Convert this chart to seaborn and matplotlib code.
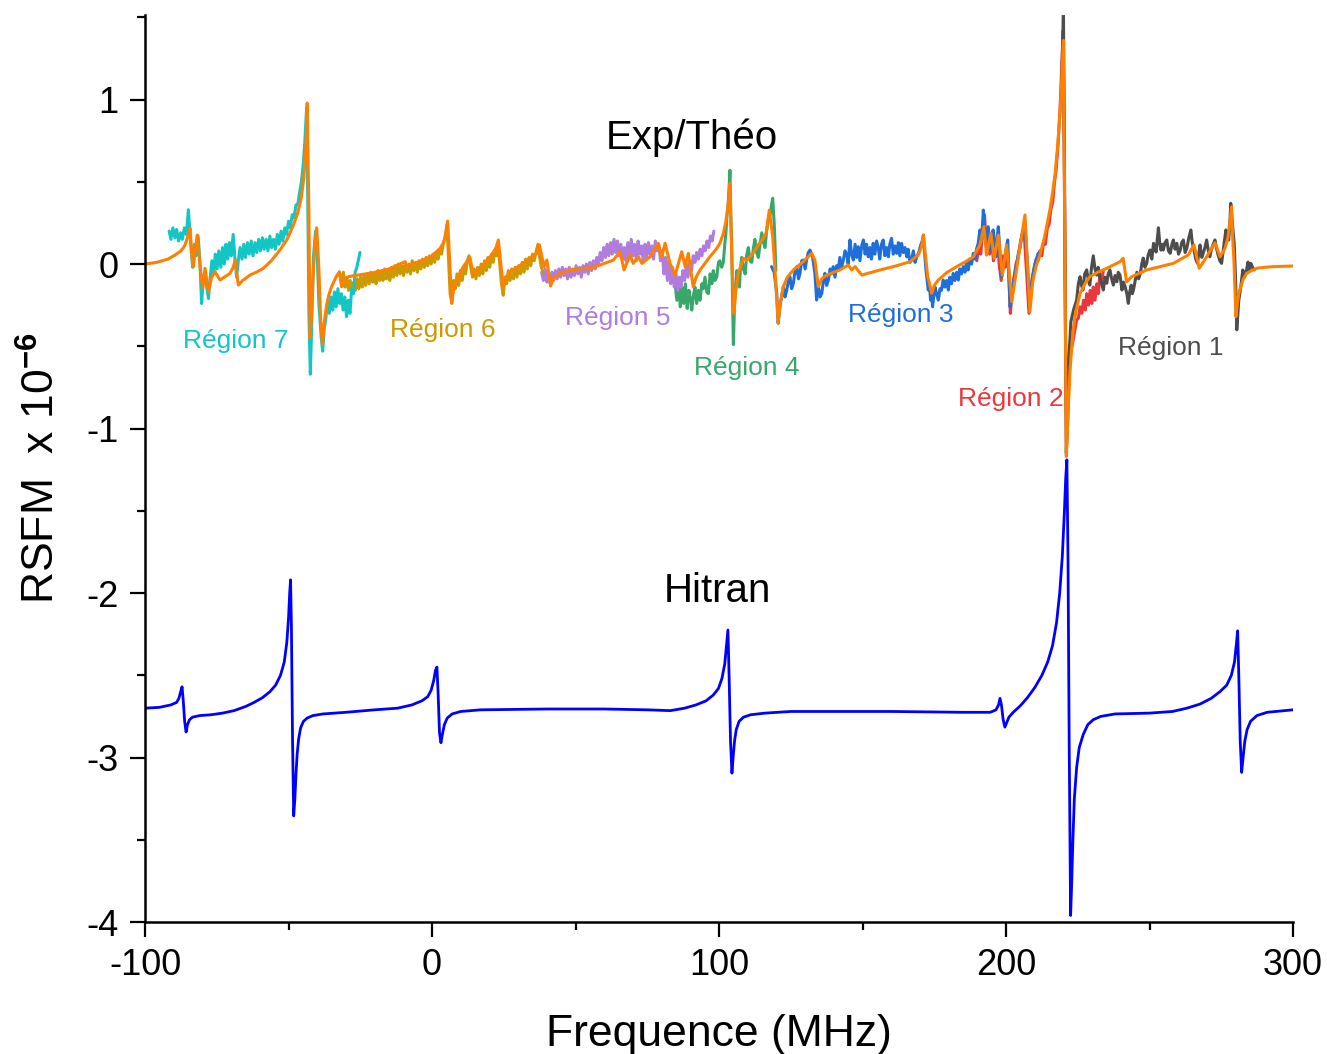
import matplotlib
matplotlib.use("Agg")
import matplotlib.pyplot as plt
import seaborn as sns
from matplotlib.ticker import MultipleLocator

# ---- data (frequency in MHz, RSFM x 1e-6) ----
hitran = [(-100.0, -2.70), (-95.0, -2.695), (-91.0, -2.68), (-89.0, -2.665), (-88.2, -2.64),
          (-87.6, -2.60), (-87.1, -2.57), (-86.7, -2.65), (-86.2, -2.78), (-85.7, -2.845),
          (-85.2, -2.80), (-84.5, -2.77), (-83.5, -2.755), (-81.0, -2.745), (-77.0, -2.74),
          (-73.0, -2.73), (-69.0, -2.715), (-65.0, -2.69), (-62.0, -2.665), (-59.0, -2.635),
          (-56.5, -2.60), (-54.5, -2.56), (-52.8, -2.50), (-51.5, -2.42), (-50.6, -2.30),
          (-50.0, -2.15), (-49.6, -2.00), (-49.3, -1.92), (-49.0, -2.20), (-48.6, -2.90),
          (-48.2, -3.355), (-47.8, -3.25), (-47.4, -3.10), (-47.0, -2.98), (-46.5, -2.89),
          (-45.8, -2.82), (-44.8, -2.78), (-43.5, -2.76), (-41.5, -2.745), (-38.0, -2.735),
          (-30.0, -2.725), (-20.0, -2.71), (-12.0, -2.70), (-7.0, -2.68), (-3.5, -2.655),
          (-1.5, -2.63), (-0.3, -2.59), (0.6, -2.53), (1.2, -2.47), (1.7, -2.45),
          (2.1, -2.60), (2.6, -2.85), (3.1, -2.91), (3.6, -2.86), (4.3, -2.80),
          (5.3, -2.76), (7.0, -2.735), (10.0, -2.72), (17.0, -2.71), (40.0, -2.705),
          (60.0, -2.705), (75.0, -2.71), (83.0, -2.715), (88.0, -2.70), (92.0, -2.68),
          (95.5, -2.655), (98.0, -2.62), (99.8, -2.58), (101.0, -2.52), (102.0, -2.43),
          (102.7, -2.30), (103.1, -2.225), (103.5, -2.50), (104.0, -2.90), (104.5, -3.095),
          (104.9, -3.00), (105.4, -2.90), (106.0, -2.83), (107.0, -2.78), (108.5, -2.755),
          (111.0, -2.74), (116.0, -2.73), (125.0, -2.72), (160.0, -2.72), (185.0, -2.725),
          (194.5, -2.725), (196.5, -2.71), (197.4, -2.68), (197.9, -2.64), (198.4, -2.68),
          (199.0, -2.77), (199.6, -2.815), (200.2, -2.79), (201.0, -2.755), (202.5, -2.725),
          (205.0, -2.685), (207.5, -2.635), (210.0, -2.575), (212.5, -2.50), (214.5, -2.42),
          (216.2, -2.32), (217.6, -2.18), (218.7, -2.00), (219.6, -1.78), (220.3, -1.52),
          (220.8, -1.30), (221.2, -1.19), (221.6, -1.80), (222.0, -2.90), (222.5, -3.96),
          (222.9, -3.75), (223.3, -3.50), (223.8, -3.25), (224.6, -3.06), (225.5, -2.94),
          (226.9, -2.86), (228.5, -2.80), (230.4, -2.77), (233.0, -2.75), (238.0, -2.735),
          (250.0, -2.73), (258.0, -2.72), (263.0, -2.70), (267.6, -2.675), (271.5, -2.64),
          (274.5, -2.60), (276.9, -2.56), (278.5, -2.50), (279.6, -2.42), (280.2, -2.32),
          (280.7, -2.23), (281.1, -2.50), (281.6, -2.90), (282.1, -3.09), (282.6, -3.00),
          (283.2, -2.90), (284.0, -2.83), (285.2, -2.78), (287.4, -2.745), (291.0, -2.725),
          (300.0, -2.71)]

theory = [(-100.0, 0.0), (-96.0, 0.01), (-92.0, 0.03), (-89.5, 0.055), (-87.5, 0.08),
          (-86.2, 0.11), (-85.2, 0.16), (-84.6, 0.20), (-84.3, 0.217), (-83.7, 0.05),
          (-83.2, -0.016), (-82.4, 0.10), (-81.8, 0.176), (-80.8, -0.02), (-79.9, -0.148),
          (-79.1, -0.026), (-77.9, -0.168), (-76.8, -0.08), (-75.6, -0.047), (-73.9, -0.097),
          (-72.0, -0.075), (-70.4, -0.057), (-69.3, -0.02), (-68.6, 0.024), (-67.5, -0.128),
          (-66.0, -0.10), (-63.4, -0.067), (-61.0, -0.048), (-58.8, -0.026), (-56.0, 0.02),
          (-53.0, 0.085), (-50.5, 0.15), (-48.3, 0.237), (-46.8, 0.31), (-45.6, 0.40),
          (-44.7, 0.52), (-44.1, 0.66), (-43.7, 0.82), (-43.5, 0.979), (-42.9, 0.30),
          (-42.5, -0.45), (-42.0, -0.30), (-41.5, -0.10), (-40.8, 0.12), (-40.2, 0.22),
          (-39.8, 0.10), (-39.4, -0.04), (-38.8, -0.35), (-38.2, -0.49), (-37.6, -0.36),
          (-36.9, -0.27), (-36.0, -0.19), (-35.0, -0.138), (-33.5, -0.08), (-32.3, -0.047),
          (-31.5, -0.138), (-30.5, -0.10), (-29.2, -0.077), (-25.0, -0.065), (-20.5, -0.053),
          (-15.0, -0.03), (-9.4, 0.014), (-8.85, -0.016), (-6.0, 0.005), (-3.0, 0.024),
          (0.0, 0.05), (2.8, 0.095), (4.0, 0.13), (4.8, 0.18), (5.45, 0.261),
          (6.85, -0.229), (7.5, -0.16), (8.6, -0.097), (10.9, -0.016), (13.2, 0.041),
          (14.4, -0.067), (16.7, -0.026), (20.8, 0.055), (22.3, 0.10), (23.1, 0.146),
          (24.8, -0.138), (25.8, -0.08), (27.2, -0.047), (31.8, 0.004), (36.5, 0.065),
          (37.4, 0.116), (39.0, -0.016), (40.0, 0.024), (41.3, -0.134), (42.2, -0.09),
          (43.4, -0.067), (48.1, -0.036), (56.2, -0.020), (58.5, -0.006), (63.2, 0.024),
          (65.5, 0.075), (66.9, -0.036), (69.0, 0.055), (70.1, 0.004), (71.9, 0.044),
          (73.1, 0.004), (76.0, 0.044), (78.8, 0.126), (80.0, 0.044), (81.2, 0.126),
          (82.9, 0.004), (84.7, -0.067), (87.0, 0.075), (88.2, -0.016), (89.3, 0.065),
          (91.0, -0.138), (92.0, -0.08), (93.4, -0.036), (96.8, 0.044), (99.0, 0.09),
          (100.3, 0.126), (101.5, 0.187), (102.3, 0.25), (102.9, 0.32), (103.4, 0.40),
          (103.8, 0.49), (104.5, 0.0), (105.2, -0.30), (105.8, -0.17), (106.7, -0.057),
          (108.5, 0.035), (109.6, 0.024), (111.4, 0.055), (113.7, 0.116), (115.4, 0.156),
          (116.4, 0.187), (117.5, 0.328), (118.7, 0.166), (119.5, -0.036), (120.6, -0.36),
          (121.3, -0.24), (122.4, -0.138), (123.8, -0.08), (125.9, -0.036), (129.3, 0.014),
          (132.3, 0.065), (133.4, 0.024), (134.6, -0.138), (135.8, -0.09), (137.5, -0.067),
          (142.1, -0.036), (145.0, -0.006), (146.2, -0.036), (147.4, -0.016), (149.7, -0.067),
          (156.1, -0.036), (162.0, -0.01), (166.5, 0.014), (169.4, 0.055), (170.5, 0.10),
          (171.2, 0.176), (172.7, -0.077), (173.3, -0.117), (174.1, -0.178), (175.0, -0.13),
          (176.4, -0.097), (179.5, -0.05), (182.8, -0.016), (186.0, 0.015), (188.6, 0.044),
          (190.9, 0.116), (192.3, 0.227), (193.2, 0.055), (194.7, 0.187), (195.9, 0.035),
          (197.3, 0.176), (198.7, -0.067), (200.2, 0.116), (202.0, -0.229), (204.2, 0.03),
          (206.6, 0.298), (208.3, -0.29), (209.3, -0.108), (210.5, -0.01), (211.8, 0.055),
          (213.5, 0.17), (215.3, 0.33), (216.2, 0.43), (217.1, 0.55), (218.0, 0.72),
          (218.8, 0.92), (219.2, 1.05), (219.6, 1.20), (220.0, 1.36), (221.0, -1.17),
          (221.3, -1.05), (221.6, -0.90), (222.0, -0.75), (222.3, -0.65), (222.8, -0.52),
          (223.4, -0.40), (224.3, -0.29), (225.8, -0.178), (227.5, -0.12), (229.2, -0.077),
          (232.0, -0.05), (235.1, -0.026), (239.7, 0.014), (240.8, 0.035), (242.0, -0.108),
          (243.8, -0.077), (249.0, -0.036), (258.3, 0.004), (263.5, 0.055), (265.5, 0.116),
          (267.3, -0.026), (269.9, 0.044), (272.8, 0.129), (274.6, 0.044), (276.3, 0.095),
          (277.3, 0.16), (277.8, 0.227), (278.3, 0.30), (278.6, 0.348), (279.0, 0.15),
          (279.4, 0.024), (280.1, -0.32), (280.6, -0.24), (281.2, -0.17), (281.8, -0.138),
          (282.7, -0.09), (283.8, -0.057), (285.5, -0.04), (287.3, -0.026), (290.0, -0.02),
          (293.1, -0.016), (300.0, -0.012)]

region7 = [(-91.6, 0.20), (-91.0, 0.15), (-90.3, 0.22), (-89.6, 0.16), (-89.0, 0.21), (-88.3, 0.14),
           (-87.6, 0.19), (-87.0, 0.15), (-86.3, 0.22), (-85.6, 0.18), (-84.9, 0.33), (-84.4, 0.20),
           (-83.9, 0.08), (-83.4, -0.02), (-82.8, 0.12), (-82.2, 0.05), (-81.5, 0.17), (-80.9, 0.02),
           (-80.3, -0.24), (-79.7, -0.10), (-79.1, -0.05), (-78.5, -0.14), (-77.9, -0.21), (-77.3, -0.08),
           (-76.7, 0.02), (-76.1, -0.06), (-75.5, 0.06), (-74.9, -0.03), (-74.3, 0.08), (-73.6, -0.02),
           (-73.0, 0.10), (-72.4, 0.00), (-71.8, 0.12), (-71.2, 0.03), (-70.6, 0.13), (-70.0, 0.05),
           (-69.3, 0.18), (-68.7, 0.04), (-68.1, -0.08), (-67.5, 0.02), (-66.9, 0.10), (-66.2, 0.03),
           (-65.6, 0.12), (-65.0, 0.04), (-64.3, 0.13), (-63.7, 0.06), (-63.0, 0.14), (-62.4, 0.05),
           (-61.7, 0.13), (-61.1, 0.07), (-60.4, 0.15), (-59.8, 0.08), (-59.1, 0.16), (-58.5, 0.09),
           (-57.8, 0.15), (-57.2, 0.08), (-56.5, 0.17), (-55.9, 0.10), (-55.2, 0.15), (-54.6, 0.09),
           (-53.9, 0.18), (-53.3, 0.12), (-52.6, 0.20), (-52.0, 0.14), (-51.3, 0.22), (-50.7, 0.18),
           (-50.0, 0.26), (-49.4, 0.22), (-48.7, 0.30), (-48.1, 0.28), (-47.4, 0.36), (-46.8, 0.36),
           (-46.1, 0.44), (-45.5, 0.50), (-44.9, 0.60), (-44.3, 0.75), (-43.7, 0.95), (-43.3, 0.40),
           (-42.9, -0.30), (-42.4, -0.67), (-41.9, -0.35), (-41.3, 0.05), (-40.6, 0.20), (-40.0, 0.05),
           (-39.4, -0.25), (-38.6, -0.45), (-38.1, -0.53), (-37.6, -0.40), (-37.0, -0.33), (-36.4, -0.22),
           (-35.8, -0.30), (-35.2, -0.20), (-34.6, -0.28), (-34.0, -0.17), (-33.4, -0.26), (-32.8, -0.15),
           (-32.2, -0.24), (-31.6, -0.18), (-31.0, -0.28), (-30.4, -0.20), (-29.8, -0.32), (-29.2, -0.22),
           (-28.6, -0.30), (-28.0, -0.15), (-27.4, -0.18), (-26.8, -0.05), (-26.2, -0.02), (-25.6, 0.03),
           (-25.1, 0.07)]

region6 = [(-32.1, -0.06), (-31.5, -0.12), (-30.9, -0.05), (-30.3, -0.14), (-29.7, -0.08), (-29.1, -0.16),
           (-28.5, -0.10), (-27.9, -0.17), (-27.3, -0.11), (-26.7, -0.16), (-26.1, -0.09), (-25.5, -0.15),
           (-24.9, -0.08), (-24.3, -0.14), (-23.7, -0.07), (-23.1, -0.13), (-22.5, -0.06), (-21.9, -0.12),
           (-21.3, -0.05), (-20.7, -0.11), (-20.1, -0.06), (-19.5, -0.12), (-18.9, -0.04), (-18.3, -0.10),
           (-17.7, -0.05), (-17.1, -0.10), (-16.5, -0.03), (-15.9, -0.09), (-15.3, -0.04), (-14.7, -0.10),
           (-14.1, -0.02), (-13.5, -0.08), (-12.9, -0.01), (-12.3, -0.07), (-11.7, 0.00), (-11.1, -0.06),
           (-10.5, -0.01), (-9.9, -0.07), (-9.3, 0.01), (-8.7, -0.05), (-8.1, 0.00), (-7.5, -0.06),
           (-6.9, 0.02), (-6.3, -0.04), (-5.7, 0.01), (-5.1, -0.05), (-4.5, 0.02), (-3.9, -0.03),
           (-3.3, 0.03), (-2.7, -0.02), (-2.1, 0.04), (-1.5, -0.01), (-0.9, 0.05), (-0.3, 0.00),
           (0.3, 0.06), (0.9, 0.01), (1.5, 0.07), (2.1, 0.03), (2.7, 0.09), (3.3, 0.06),
           (3.9, 0.12), (4.5, 0.16), (5.2, 0.24), (5.7, 0.05), (6.3, -0.18), (6.9, -0.24),
           (7.5, -0.10), (8.1, -0.15), (8.7, -0.06), (9.3, -0.13), (9.9, -0.04), (10.5, -0.10),
           (11.1, -0.02), (11.7, -0.06), (12.3, 0.02), (12.9, 0.05), (13.5, -0.02), (14.1, -0.08),
           (14.7, -0.03), (15.3, -0.09), (15.9, -0.02), (16.5, -0.07), (17.1, 0.00), (17.7, -0.06),
           (18.3, 0.02), (18.9, -0.04), (19.5, 0.04), (20.1, -0.02), (20.7, 0.06), (21.3, 0.01),
           (21.9, 0.08), (22.5, 0.05), (23.0, 0.12), (23.6, 0.00), (24.2, -0.12), (24.8, -0.19),
           (25.4, -0.08), (26.0, -0.12), (26.6, -0.04), (27.2, -0.10), (27.8, -0.03), (28.4, -0.09),
           (29.0, -0.02), (29.6, -0.08), (30.2, -0.01), (30.8, -0.06), (31.4, 0.01), (32.0, -0.05),
           (32.6, 0.03), (33.2, -0.03), (33.8, 0.04), (34.4, -0.01), (35.0, 0.06), (35.6, 0.02),
           (36.2, 0.07), (36.9, 0.12), (37.5, 0.04), (38.1, -0.02), (38.7, -0.05)]

region5 = [(38.2, -0.05), (38.8, -0.10), (39.4, -0.03), (40.0, -0.11), (40.6, -0.06), (41.2, -0.12),
           (41.8, -0.05), (42.4, -0.10), (43.0, -0.04), (43.6, -0.09), (44.2, -0.03), (44.8, -0.08),
           (45.4, -0.02), (46.0, -0.07), (46.6, -0.03), (47.2, -0.09), (47.8, -0.02), (48.4, -0.08),
           (49.0, -0.03), (49.6, -0.07), (50.2, -0.01), (50.8, -0.06), (51.4, -0.02), (52.0, -0.08),
           (52.6, -0.01), (53.2, -0.05), (53.8, 0.00), (54.4, -0.06), (55.0, 0.01), (55.6, -0.04),
           (56.2, 0.02), (56.8, -0.03), (57.4, 0.04), (58.0, 0.00), (58.6, 0.07), (59.2, 0.02),
           (59.8, 0.10), (60.4, 0.04), (61.0, 0.12), (61.6, 0.05), (62.2, 0.13), (62.8, 0.06),
           (63.4, 0.15), (64.0, 0.07), (64.6, 0.14), (65.2, 0.05), (65.8, 0.12), (66.4, 0.03),
           (67.0, 0.10), (67.6, 0.02), (68.2, 0.13), (68.8, 0.04), (69.4, 0.15), (70.0, 0.05),
           (70.6, 0.12), (71.2, 0.02), (71.8, 0.14), (72.4, 0.06), (73.0, 0.11), (73.6, 0.01),
           (74.2, 0.12), (74.8, 0.04), (75.4, 0.13), (76.0, 0.06), (76.6, 0.11), (77.2, 0.03),
           (77.8, 0.14), (78.4, 0.08), (79.0, 0.12), (79.6, 0.02), (80.2, 0.08), (80.8, -0.06),
           (81.4, 0.04), (82.0, -0.10), (82.6, 0.02), (83.2, -0.12), (83.8, -0.02), (84.4, -0.14),
           (85.0, -0.06), (85.6, -0.16), (86.2, -0.08), (86.8, -0.14), (87.4, -0.04), (88.0, -0.10),
           (88.6, 0.00), (89.2, -0.08), (89.8, 0.02), (90.4, -0.04), (91.0, 0.05), (91.6, 0.01),
           (92.2, 0.07), (92.8, 0.03), (93.4, 0.09), (94.0, 0.05), (94.6, 0.11), (95.2, 0.08),
           (95.8, 0.14), (96.4, 0.10), (97.0, 0.17), (97.6, 0.14), (98.2, 0.20)]

region4 = [(84.7, -0.12), (85.3, -0.22), (85.9, -0.10), (86.5, -0.26), (87.1, -0.14), (87.7, -0.24),
           (88.3, -0.12), (88.9, -0.27), (89.5, -0.16), (90.1, -0.22), (90.5, -0.28), (91.0, -0.20),
           (91.6, -0.14), (92.2, -0.24), (92.8, -0.16), (93.4, -0.22), (94.0, -0.12), (94.5, -0.15),
           (95.1, -0.08), (95.7, -0.17), (96.3, -0.18), (96.9, -0.06), (97.5, -0.12), (98.0, -0.04),
           (98.6, -0.10), (99.2, -0.08), (99.8, 0.01), (100.3, 0.02), (100.9, -0.02), (101.5, 0.01),
           (102.0, 0.12), (102.4, 0.19), (102.8, 0.30), (103.2, 0.37), (103.8, 0.57), (104.1, 0.30),
           (104.4, 0.13), (104.7, -0.20), (105.0, -0.49), (105.3, -0.30), (105.6, -0.16), (106.2, -0.04),
           (106.6, -0.10), (107.1, -0.14), (107.5, -0.02), (107.9, 0.04), (108.5, -0.03), (109.1, -0.06),
           (109.6, 0.05), (110.2, 0.10), (110.8, 0.02), (111.4, 0.01), (112.0, 0.10), (112.5, 0.15),
           (113.1, 0.07), (113.7, 0.04), (114.3, 0.12), (114.9, 0.19), (115.5, 0.13), (116.0, 0.10),
           (116.6, 0.20), (117.2, 0.27), (117.8, 0.30), (118.3, 0.36), (118.7, 0.40), (119.0, 0.31),
           (119.3, 0.22), (119.8, -0.04)]

region3 = [(118.3, -0.016), (119.2, -0.05), (120.1, -0.178), (120.6, -0.36), (121.2, -0.26), (121.8, -0.20),
           (122.4, -0.138), (123.0, -0.20), (123.6, -0.158), (124.2, -0.10), (124.7, -0.077), (125.3, -0.15),
           (125.9, -0.117), (126.5, -0.04), (127.1, -0.016), (127.7, -0.09), (128.2, -0.057), (128.8, 0.02),
           (129.4, 0.024), (130.0, -0.03), (130.5, 0.024), (131.1, 0.07), (131.7, 0.085), (132.6, 0.044),
           (133.4, -0.057), (134.0, -0.219), (134.6, -0.138), (135.2, -0.20), (135.8, -0.178), (136.4, -0.10),
           (136.9, -0.057), (137.5, -0.13), (138.1, -0.097), (138.7, -0.03), (139.2, -0.06), (139.8, -0.016),
           (140.4, -0.08), (141.0, -0.01), (141.5, -0.036), (142.1, 0.04), (142.7, -0.02), (143.3, 0.024),
           (143.9, 0.08), (144.5, 0.055), (145.0, 0.00), (145.6, 0.146), (146.2, 0.06), (146.8, 0.024),
           (147.4, 0.12), (148.0, 0.04), (148.5, 0.105), (149.1, 0.02), (149.7, 0.11), (150.3, 0.146),
           (150.9, 0.06), (151.4, 0.12), (152.0, 0.044), (152.6, 0.10), (153.1, 0.03), (153.7, 0.126),
           (154.3, 0.06), (154.9, 0.14), (155.5, 0.095), (156.0, 0.03), (156.6, 0.12), (157.2, 0.146),
           (157.8, 0.05), (158.4, 0.10), (159.0, 0.044), (159.5, 0.12), (160.1, 0.156), (160.7, 0.06),
           (161.3, 0.11), (161.9, 0.065), (162.5, 0.13), (163.0, 0.05), (163.6, 0.126), (164.2, 0.07),
           (164.8, 0.10), (165.4, 0.044), (165.9, 0.09), (166.5, 0.01), (167.1, 0.024), (167.7, 0.08),
           (168.3, 0.01), (168.9, 0.044), (169.6, 0.07), (170.3, 0.116), (170.8, 0.14), (171.2, 0.176),
           (171.7, 0.05), (172.1, -0.036), (172.5, -0.10), (172.9, -0.158), (173.3, -0.12), (173.7, -0.219),
           (174.1, -0.18), (174.4, -0.26), (174.8, -0.20), (175.2, -0.138), (175.8, -0.18), (176.4, -0.219),
           (177.0, -0.15), (177.5, -0.16), (178.1, -0.097), (178.7, -0.14), (179.3, -0.10), (179.9, -0.158),
           (180.4, -0.08), (181.0, -0.12), (181.6, -0.057), (182.2, -0.10), (182.8, -0.05), (183.4, -0.097),
           (183.9, -0.03), (184.5, -0.06), (185.1, -0.016), (185.7, -0.05), (186.2, 0.01), (186.8, -0.036),
           (187.4, 0.03), (188.0, 0.00), (188.6, 0.065), (189.2, 0.03), (189.7, 0.09), (190.3, 0.126),
           (190.9, 0.207), (191.5, 0.15), (192.1, 0.328), (192.5, 0.20), (192.9, 0.126), (193.4, 0.18),
           (193.8, 0.227), (194.2, 0.13), (194.6, 0.085), (195.0, 0.15), (195.5, 0.207), (196.0, 0.10),
           (196.5, 0.044), (196.9, 0.15), (197.3, 0.227), (197.9, 0.06), (198.5, -0.077), (199.0, -0.02),
           (199.6, 0.024), (200.1, 0.10), (200.6, 0.146), (201.0, -0.05), (201.4, -0.26), (201.9, -0.20),
           (202.5, -0.117), (203.1, -0.06), (203.7, 0.00), (204.3, 0.065), (204.9, 0.10), (205.4, 0.16),
           (206.0, 0.207), (206.6, 0.247), (207.0, 0.12), (207.4, 0.024), (207.8, -0.12), (208.1, -0.27),
           (208.5, -0.20), (208.9, -0.117), (209.5, -0.05), (210.1, 0.004), (210.6, 0.03), (211.2, 0.065)]

region2 = [(189.8, 0.02), (190.5, 0.10), (191.2, 0.06), (191.9, 0.22), (192.5, 0.30), (193.1, 0.12),
           (193.7, 0.22), (194.3, 0.06), (195.0, 0.18), (195.6, 0.02), (196.3, 0.10), (197.0, 0.18),
           (197.6, 0.00), (198.3, -0.10), (199.0, 0.05), (199.7, -0.02), (200.3, 0.12), (200.9, -0.05),
           (201.5, -0.30), (202.1, -0.18), (202.8, -0.08), (203.5, 0.00), (204.2, 0.04), (204.9, 0.12),
           (205.6, 0.18), (206.3, 0.20), (206.8, 0.05), (207.4, -0.12), (208.0, -0.30), (208.6, -0.15),
           (209.2, -0.08), (209.9, -0.02), (210.5, 0.03), (211.2, 0.02), (211.8, 0.08), (212.5, 0.05),
           (213.1, 0.14), (213.7, 0.12), (214.4, 0.22), (215.0, 0.24), (215.6, 0.33), (216.3, 0.38),
           (216.9, 0.50), (217.5, 0.58), (218.1, 0.72), (218.8, 0.93), (219.4, 1.20), (219.9, 1.42),
           (220.3, 0.60), (220.7, -0.40), (221.1, -1.10), (221.5, -0.95), (221.9, -0.72), (222.3, -0.58),
           (222.8, -0.52), (223.4, -0.46), (224.0, -0.40), (224.6, -0.34), (225.2, -0.33), (225.8, -0.26),
           (226.4, -0.30), (227.0, -0.22), (227.6, -0.28), (228.1, -0.18), (228.7, -0.25), (229.3, -0.16),
           (229.9, -0.24), (230.4, -0.14), (231.0, -0.22), (231.6, -0.12), (232.2, -0.18), (232.7, -0.06),
           (233.3, -0.12), (233.9, -0.04)]

region1 = [(219.3, 1.00), (220.0, 1.55), (221.0, -1.15), (221.8, -0.60), (222.6, -0.35), (223.5, -0.28),
           (224.6, -0.219), (225.2, -0.12), (225.8, -0.077), (226.3, -0.13), (226.8, -0.158), (227.4, -0.06),
           (228.1, -0.036), (228.7, -0.10), (229.2, -0.128), (229.8, -0.02), (230.4, 0.05), (231.0, -0.03),
           (231.6, -0.067), (232.1, -0.02), (232.7, -0.077), (233.3, -0.12), (233.9, -0.158), (234.5, -0.08),
           (235.1, -0.117), (235.6, -0.06), (236.2, -0.036), (236.8, -0.09), (237.4, -0.128), (238.0, -0.07),
           (238.6, -0.108), (239.1, -0.05), (239.7, -0.067), (240.4, -0.158), (240.9, -0.11), (241.5, -0.138),
           (242.1, -0.18), (242.6, -0.239), (243.1, -0.17), (243.6, -0.128), (244.0, -0.18), (244.4, -0.158),
           (245.0, -0.10), (245.6, -0.05), (246.2, -0.09), (246.8, -0.057), (247.3, 0.00), (247.8, 0.036),
           (248.4, -0.02), (249.0, 0.004), (249.6, 0.06), (250.2, 0.085), (250.8, 0.03), (251.4, 0.126),
           (251.9, 0.09), (252.3, 0.073), (252.7, 0.15), (253.1, 0.22), (253.6, 0.12), (254.0, 0.085),
           (254.4, 0.12), (254.8, 0.085), (255.4, 0.13), (256.0, 0.146), (256.6, 0.08), (257.2, 0.065),
           (257.8, 0.12), (258.3, 0.146), (258.9, 0.09), (259.5, 0.126), (260.1, 0.06), (260.7, 0.085),
           (261.2, 0.13), (261.8, 0.146), (262.4, 0.07), (263.0, 0.097), (263.7, 0.16), (264.4, 0.207),
           (264.9, 0.13), (265.5, 0.085), (266.1, 0.03), (266.7, 0.004), (267.2, 0.07), (267.6, 0.116),
           (268.2, 0.04), (268.7, 0.065), (269.3, 0.10), (269.9, 0.146), (270.5, 0.08), (271.0, 0.044),
           (271.6, 0.09), (272.1, 0.116), (272.8, 0.146), (273.4, 0.09), (273.9, 0.055), (274.5, 0.02),
           (275.1, 0.004), (275.8, 0.10), (276.6, 0.207), (277.1, 0.17), (277.6, 0.146), (278.0, 0.25),
           (278.3, 0.369), (278.9, 0.24), (279.5, 0.126), (280.0, -0.10), (280.4, -0.40), (281.1, -0.22),
           (281.8, -0.138), (282.5, -0.036), (283.0, -0.08), (283.6, -0.057), (284.3, 0.012), (284.8, -0.04),
           (285.3, 0.004), (285.9, -0.02), (286.5, -0.036)]

regions = [("Région 2", region2, "#E8383D"), ("Région 1", region1, "#4D4D4D"),
           ("Région 3", region3, "#1E6FDC"), ("Région 4", region4, "#38A86A"),
           ("Région 5", region5, "#B07CDE"), ("Région 6", region6, "#CC9900"),
           ("Région 7", region7, "#12C6C6")]

# label anchors (x MHz, y) for each region name
region_labels = {"Région 7": (-68.3, -0.47), "Région 6": (3.6, -0.40), "Région 5": (64.8, -0.33),
                 "Région 4": (109.7, -0.63), "Région 3": (163.4, -0.31), "Région 2": (201.7, -0.82),
                 "Région 1": (257.5, -0.51)}

sns.set_theme(style="ticks")
plt.rcParams['font.family'] = ['Liberation Sans', 'DejaVu Sans']
plt.rcParams['axes.unicode_minus'] = False
plt.rcParams['mathtext.fontset'] = 'custom'
plt.rcParams['mathtext.rm'] = 'Liberation Sans'
plt.rcParams['mathtext.bf'] = 'Liberation Sans:bold'
for key in ['text.color', 'axes.labelcolor', 'xtick.color', 'ytick.color']:
    plt.rcParams[key] = 'black'

fig = plt.figure(figsize=(13.27, 10.54), dpi=100)
ax = fig.add_axes([0.1093, 0.1252, 0.8651, 0.8606])


def draw(points, color, lw):
    xs = [p[0] for p in points]
    ys = [p[1] for p in points]
    sns.lineplot(x=xs, y=ys, ax=ax, color=color, lw=lw, sort=False, estimator=None)


for name, pts, col in regions:
    draw(pts, col, 2.2)
draw(theory, "#FF8000", 2.2)
draw(hitran, "#0000FF", 2.0)

for name, pts, col in regions:
    lx, ly = region_labels[name]
    ax.text(lx, ly, name, color=col, fontsize=19, ha='center', va='center')

ax.text(90.6, 0.77, "Exp/Théo", fontsize=29, ha='center', va='center')
ax.text(99.6, -1.99, "Hitran", fontsize=29, ha='center', va='center')

ax.set_xlim(-100, 300)
ax.set_ylim(-4, 1.514)
ax.xaxis.set_major_locator(MultipleLocator(100))
ax.xaxis.set_minor_locator(MultipleLocator(50))
ax.yaxis.set_major_locator(MultipleLocator(1))
ax.yaxis.set_minor_locator(MultipleLocator(0.5))
ax.tick_params(which='major', direction='out', length=11, width=1.6, labelsize=26, pad=8)
ax.tick_params(which='minor', direction='out', length=6, width=1.6)
sns.despine(ax=ax)
for s in ['left', 'bottom']:
    ax.spines[s].set_linewidth(1.8)
    ax.spines[s].set_color('black')

ax.set_xlabel("Frequence (MHz)", fontsize=32, labelpad=22)
ax.set_ylabel(r"RSFM  x 10$^{\mathbf{-6}}$", fontsize=32, labelpad=16)

fig.savefig("out.png", dpi=100)
